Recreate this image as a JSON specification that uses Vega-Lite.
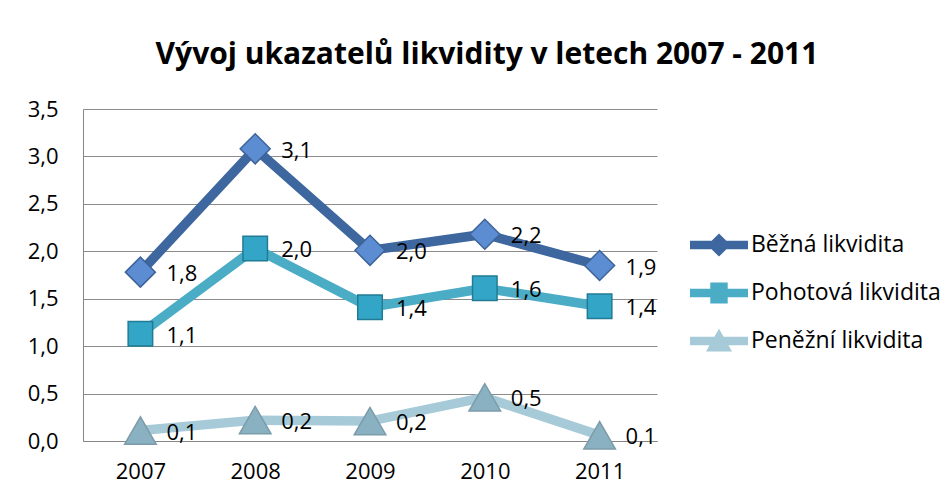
{
  "$schema": "https://vega.github.io/schema/vega-lite/v6.json",
  "width": 574,
  "height": 332,
  "autosize": {"type": "none"},
  "padding": {"left": 83, "top": 109, "right": 294, "bottom": 57},
  "background": "white",
  "title": {
    "text": "Vývoj ukazatelů  likvidity v letech 2007 - 2011",
    "font": "Open Sans",
    "fontSize": 30,
    "fontWeight": "bold",
    "color": "black",
    "anchor": "middle",
    "dx": 117,
    "offset": 28
  },
  "data": {
    "values": [
      {"year": "2007", "series": "Běžná likvidita", "v": 1.78},
      {"year": "2008", "series": "Běžná likvidita", "v": 3.08},
      {"year": "2009", "series": "Běžná likvidita", "v": 2.01},
      {"year": "2010", "series": "Běžná likvidita", "v": 2.18},
      {"year": "2011", "series": "Běžná likvidita", "v": 1.85},
      {"year": "2007", "series": "Pohotová likvidita", "v": 1.13},
      {"year": "2008", "series": "Pohotová likvidita", "v": 2.03},
      {"year": "2009", "series": "Pohotová likvidita", "v": 1.41},
      {"year": "2010", "series": "Pohotová likvidita", "v": 1.61},
      {"year": "2011", "series": "Pohotová likvidita", "v": 1.42},
      {"year": "2007", "series": "Peněžní likvidita", "v": 0.11},
      {"year": "2008", "series": "Peněžní likvidita", "v": 0.22},
      {"year": "2009", "series": "Peněžní likvidita", "v": 0.21},
      {"year": "2010", "series": "Peněžní likvidita", "v": 0.46},
      {"year": "2011", "series": "Peněžní likvidita", "v": 0.06}
    ]
  },
  "encoding": {
    "x": {
      "field": "year",
      "type": "ordinal",
      "scale": {"type": "point", "padding": 0.5},
      "axis": {
        "title": null,
        "labelAngle": 0,
        "ticks": false,
        "grid": false,
        "domainColor": "#868686",
        "labelFont": "Open Sans",
        "labelFontSize": 22,
        "labelColor": "black",
        "labelPadding": 20
      }
    },
    "y": {
      "field": "v",
      "type": "quantitative",
      "scale": {"domain": [0, 3.5], "nice": false, "zero": true},
      "axis": {
        "title": null,
        "values": [0, 0.5, 1, 1.5, 2, 2.5, 3, 3.5],
        "format": ".1f",
        "ticks": false,
        "grid": true,
        "gridColor": "#8C8C8C",
        "domainColor": "#868686",
        "labelFont": "Open Sans",
        "labelFontSize": 22,
        "labelColor": "black",
        "labelPadding": 25
      }
    }
  },
  "layer": [
    {
      "mark": {"type": "line", "strokeWidth": 9.5, "strokeJoin": "miter"},
      "encoding": {
        "color": {
          "field": "series",
          "type": "nominal",
          "sort": ["Běžná likvidita", "Pohotová likvidita", "Peněžní likvidita"],
          "scale": {
            "domain": ["Běžná likvidita", "Pohotová likvidita", "Peněžní likvidita"],
            "range": ["#3D679E", "#4BACC6", "#A6CAD8"]
          },
          "legend": {
            "title": null,
            "orient": "none",
            "legendX": 607,
            "legendY": 116,
            "symbolSize": 3364,
            "symbolStrokeWidth": 0,
            "clipHeight": 40,
            "rowPadding": 8,
            "labelOffset": 3,
            "labelFont": "Open Sans",
            "labelFontSize": 23,
            "labelColor": "black",
            "labelLimit": 300,
            "encode": {
              "symbols": {
                "update": {
                  "fill": {"scale": "color", "field": "value"},
                  "fillOpacity": {"value": 1},
                  "strokeWidth": {"value": 0},
                  "shape": {
                    "signal": "datum.value === 'Běžná likvidita' ? 'M-1,-0.15H1V0.15H-1Z M0,-0.4L0.4,0L0,0.4L-0.4,0Z' : datum.value === 'Pohotová likvidita' ? 'M-1,-0.15H1V0.15H-1Z M-0.3,-0.36H0.3V0.36H-0.3Z' : 'M-1,-0.15H1V0.15H-1Z M0,-0.42L0.45,0.36L-0.45,0.36Z'"
                  }
                }
              }
            }
          }
        }
      }
    },
    {
      "transform": [{"filter": "datum.series === 'Běžná likvidita'"}],
      "mark": {"type": "point", "filled": true, "opacity": 1, "shape": "diamond", "size": 900, "fill": "#5C8DD3", "stroke": "#3E6399", "strokeWidth": 1.5}
    },
    {
      "transform": [{"filter": "datum.series === 'Pohotová likvidita'"}],
      "mark": {"type": "point", "filled": true, "opacity": 1, "shape": "square", "size": 600, "fill": "#33A6C7", "stroke": "#217B94", "strokeWidth": 1.5}
    },
    {
      "transform": [{"filter": "datum.series === 'Peněžní likvidita'"}],
      "mark": {"type": "point", "filled": true, "opacity": 1, "shape": "triangle-up", "size": 1000, "fill": "#8AB1C2", "stroke": "#7D9CAA", "strokeWidth": 1.5}
    },
    {
      "mark": {
        "type": "text",
        "align": "left",
        "baseline": "middle",
        "dx": 26,
        "dy": 2,
        "font": "Open Sans",
        "fontSize": 22,
        "color": "black"
      },
      "encoding": {
        "text": {"field": "v", "type": "quantitative", "format": ".1f"}
      }
    }
  ],
  "config": {
    "view": {"stroke": null},
    "locale": {
      "number": {
        "decimal": ",",
        "thousands": " ",
        "grouping": [3],
        "currency": ["", " Kč"]
      }
    }
  }
}
